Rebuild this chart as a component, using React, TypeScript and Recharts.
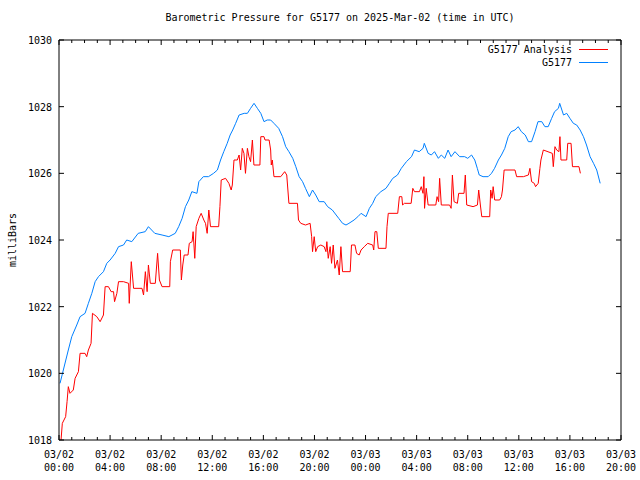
import { LineChart, Line, XAxis, YAxis, Legend } from "recharts";

// hours since 03/02 00:00 UTC
const analysisHours = [
  0.16, 0.26, 0.52, 0.63, 0.73, 0.86, 1.12, 1.26, 1.52, 1.65, 2.04, 2.17, 2.3, 2.51, 2.62, 2.96,
  3.22, 3.48, 3.61, 3.87, 4.08, 4.27, 4.35, 4.53, 4.66, 5.05, 5.45, 5.5, 5.66, 5.84, 6.5, 6.62,
  6.76, 6.9, 7.0, 7.15, 7.54, 7.72, 7.86, 8.07, 8.67, 8.72, 8.9, 9.5, 9.58, 9.69, 9.8, 10.1,
  10.2, 10.42, 10.5, 10.63, 10.74, 10.95, 11.13, 11.34, 11.47, 11.6, 11.73, 11.86, 12.5, 12.6,
  12.7, 13.04, 13.3, 13.48, 13.57, 13.7, 13.96, 14.1, 14.22, 14.35, 14.48, 14.6, 14.75, 14.87,
  15.0, 15.14, 15.26, 15.73, 15.8, 16.05, 16.13, 16.45, 16.57, 16.62, 16.7, 16.83, 17.36, 17.67,
  17.83, 18.0, 18.67, 18.75, 18.93, 19.3, 19.66, 19.78, 19.85, 19.98, 20.1, 20.25, 20.5, 20.76,
  20.9, 20.97, 21.08, 21.23, 21.34, 21.47, 21.6, 21.8, 21.94, 22.07, 22.2, 22.8, 22.9, 23.17,
  23.3, 23.5, 23.65, 23.9, 24.17, 24.56, 24.64, 24.74, 24.88, 25.0, 25.6, 25.68, 25.78, 26.52,
  26.65, 26.84, 26.9, 27.04, 27.57, 27.7, 27.83, 28.22, 28.36, 28.5, 28.57, 28.62, 28.75, 28.9,
  29.5, 29.6, 29.72, 29.8, 29.93, 30.58, 30.7, 30.8, 30.93, 31.19, 31.29, 31.71, 31.81, 31.92,
  32.42, 32.76, 32.86, 32.99, 33.1, 33.72, 33.8, 33.91, 33.99, 34.11, 34.5, 34.64, 34.72, 34.85,
  35.7, 35.83, 36.36, 36.75, 36.87, 37.0, 37.21, 37.31, 37.52, 37.65, 37.73, 37.92, 38.62, 38.7,
  38.83, 38.96, 39.14, 39.22, 39.3, 39.75, 39.83, 40.09, 40.2, 40.71, 40.82,
];
const analysisMb = [
  1018.0, 1018.5, 1018.7, 1019.15, 1019.6, 1019.4, 1019.5, 1019.85, 1020.05, 1020.6, 1020.6, 1020.5, 1020.7, 1020.9, 1021.8, 1021.7,
  1021.55, 1021.75, 1022.6, 1022.6, 1022.45, 1022.45, 1022.15, 1022.4, 1022.75, 1022.75, 1022.7, 1022.1, 1023.35, 1022.55, 1022.55, 1022.35,
  1023.05, 1022.45, 1023.25, 1022.7, 1022.7, 1023.6, 1022.8, 1022.6, 1022.6, 1023.35, 1023.7, 1023.7, 1022.8, 1023.25, 1023.55, 1023.55,
  1023.9, 1023.95, 1024.25, 1023.45, 1024.4, 1024.65, 1024.8, 1024.6, 1024.5, 1024.2, 1024.9, 1024.4, 1024.4, 1025.0,
  1025.8, 1025.85, 1025.7, 1025.5, 1025.65, 1026.4, 1026.4, 1026.55, 1026.1, 1026.75, 1026.6, 1026.0, 1026.75, 1026.5,
  1026.35, 1027.0, 1026.25, 1026.25, 1027.1, 1027.1, 1027.0, 1027.0, 1026.7, 1026.25, 1026.4, 1025.9, 1025.9, 1026.05,
  1025.95, 1025.1, 1025.1, 1024.6, 1024.5, 1024.45, 1024.5, 1024.1, 1023.65, 1024.1, 1023.65, 1023.8, 1023.85, 1023.8,
  1023.65, 1023.95, 1023.45, 1023.8, 1023.3, 1023.85, 1023.15, 1023.4, 1022.95, 1023.8, 1023.05, 1023.05, 1023.85, 1023.85,
  1023.6, 1023.55, 1023.7, 1023.8, 1023.9, 1023.85, 1023.7, 1024.25, 1024.25, 1023.75, 1023.75, 1024.4, 1024.8, 1024.8,
  1025.3, 1025.3, 1025.05, 1025.1, 1025.1, 1025.55, 1025.45, 1025.45, 1025.6, 1025.4, 1025.9, 1024.95, 1025.55, 1025.05,
  1025.05, 1025.3, 1025.15, 1025.85, 1025.05, 1025.05, 1024.95, 1025.95, 1025.15, 1025.1, 1025.4, 1025.4, 1025.95, 1025.05,
  1025.0, 1025.05, 1025.5, 1025.05, 1024.7, 1024.7, 1025.5, 1025.25, 1025.6, 1025.2, 1025.2, 1025.3, 1025.5, 1026.1,
  1026.1, 1025.9, 1025.9, 1025.95, 1026.15, 1025.75, 1025.7, 1025.6, 1025.7, 1026.15, 1026.4, 1026.7, 1026.6, 1026.2,
  1026.8, 1026.7, 1026.65, 1027.1, 1026.4, 1026.4, 1026.9, 1026.9, 1026.2, 1026.2, 1026.0,
];

const stationHours = [
  0.08, 0.34, 0.73, 1.0, 1.39, 1.65, 2.04, 2.3, 2.57, 2.83, 3.09, 3.48, 3.74, 4.0, 4.4, 4.66,
  5.05, 5.3, 5.7, 6.2, 6.75, 7.0, 7.5, 8.07, 8.6, 9.1, 9.37, 9.64, 9.9, 10.16, 10.4, 10.8,
  10.95, 11.3, 11.7, 12.1, 12.4, 12.65, 12.9, 13.17, 13.4, 13.6, 13.83, 14.1, 14.5, 14.75, 15.0, 15.27,
  15.53, 15.8, 16.05, 16.3, 16.57, 16.83, 17.2, 17.5, 17.75, 18.0, 18.3, 18.54, 18.8, 19.07, 19.3, 19.6,
  19.85, 20.1, 20.37, 20.76, 21.03, 21.4, 21.7, 21.9, 22.2, 22.47, 22.7, 23.1, 23.4, 23.65, 24.04, 24.3,
  24.56, 24.8, 25.2, 25.6, 25.87, 26.13, 26.5, 26.8, 27.2, 27.6, 27.83, 28.2, 28.5, 28.6, 28.9, 29.15,
  29.4, 29.7, 29.93, 30.2, 30.46, 30.7, 31.0, 31.37, 31.76, 32.0, 32.3, 32.55, 32.75, 32.9, 33.2, 33.6,
  33.86, 34.1, 34.4, 34.64, 34.9, 35.17, 35.4, 35.7, 35.95, 36.2, 36.5, 36.75, 37.0, 37.27, 37.5, 37.8,
  38.04, 38.3, 38.57, 38.8, 39.1, 39.2, 39.5, 39.75, 40.0, 40.27, 40.53, 40.8, 41.06, 41.3, 41.58, 41.85,
  42.1, 42.37,
];
const stationMb = [
  1019.7, 1020.1, 1020.7, 1021.1, 1021.45, 1021.7, 1021.8, 1022.1, 1022.4, 1022.75, 1022.9, 1023.05, 1023.3, 1023.4, 1023.6, 1023.8,
  1023.85, 1024.0, 1023.95, 1024.2, 1024.25, 1024.4, 1024.2, 1024.15, 1024.1, 1024.2, 1024.4, 1024.65, 1025.0, 1025.2, 1025.45, 1025.4,
  1025.75, 1025.9, 1025.9, 1026.0, 1026.1, 1026.4, 1026.65, 1026.9, 1027.15, 1027.3, 1027.5, 1027.75, 1027.8, 1027.8, 1027.95, 1028.1,
  1027.95, 1027.8, 1027.55, 1027.6, 1027.6, 1027.5, 1027.35, 1027.1, 1026.8, 1026.65, 1026.45, 1026.2, 1025.9, 1025.75, 1025.55, 1025.3,
  1025.5, 1025.35, 1025.15, 1025.15, 1025.0, 1024.9, 1024.75, 1024.65, 1024.5, 1024.45, 1024.5, 1024.6, 1024.7, 1024.8, 1024.7, 1024.95,
  1025.1, 1025.3, 1025.45, 1025.55, 1025.7, 1025.85, 1025.95, 1026.15, 1026.35, 1026.5, 1026.7, 1026.65, 1026.75, 1026.9, 1026.6, 1026.55,
  1026.65, 1026.45, 1026.55, 1026.45, 1026.7, 1026.5, 1026.65, 1026.5, 1026.5, 1026.45, 1026.55, 1026.4, 1026.15, 1025.95, 1025.9, 1025.9,
  1026.0, 1026.15, 1026.4, 1026.55, 1026.75, 1027.1, 1027.25, 1027.3, 1027.4, 1027.25, 1027.15, 1026.95, 1026.95, 1027.25, 1027.55, 1027.55,
  1027.4, 1027.4, 1027.65, 1027.85, 1027.95, 1028.1, 1027.75, 1027.8, 1027.65, 1027.5, 1027.45, 1027.3, 1027.1, 1026.85, 1026.5, 1026.3,
  1026.1, 1025.7,
];

const hourTicks = Array.from({ length: 45 }, (_, i) => i);
const xTickLabels = [
  "03/02 00:00", "03/02 04:00", "03/02 08:00", "03/02 12:00", "03/02 16:00", "03/02 20:00",
  "03/03 00:00", "03/03 04:00", "03/03 08:00", "03/03 12:00", "03/03 16:00", "03/03 20:00",
];
const yTicks = [1018, 1020, 1022, 1024, 1026, 1028, 1030];
const seriesNames = ["G5177 Analysis", "G5177"];
const seriesColors = ["#ff0000", "#0080ff"];

const FONT = "'DejaVu Sans Mono', monospace";
// recharts treats a tickSize of 0 as "use the default", so use a hair instead
const NO_TICK = 0.0001;

const analysisData = analysisHours.map((t, i) => ({ t, mb: analysisMb[i] }));
const stationData = stationHours.map((t, i) => ({ t, mb: stationMb[i] }));

function BottomTick({ x, y, payload }: any) {
  const h = payload.value;
  const major = h % 4 === 0;
  const label = major ? xTickLabels[h / 4] : null;
  return (
    <g>
      <line x1={x} y1={y} x2={x} y2={y - (major ? 5 : 3)} stroke="#000" />
      {label && (
        <text x={x} y={y + 18} textAnchor="middle" fontFamily={FONT} fontSize={10} fill="#000">
          {label.split(" ")[0]}
        </text>
      )}
      {label && (
        <text x={x} y={y + 31} textAnchor="middle" fontFamily={FONT} fontSize={10} fill="#000">
          {label.split(" ")[1]}
        </text>
      )}
    </g>
  );
}

function TopTick({ x, y, payload }: any) {
  const major = payload.value % 4 === 0;
  return <line x1={x} y1={y} x2={x} y2={y + (major ? 5 : 3)} stroke="#000" />;
}

function LeftTick({ x, y, payload }: any) {
  return (
    <g>
      <line x1={x} y1={y} x2={x + 5} y2={y} stroke="#000" />
      <text x={x - 7} y={y + 4} textAnchor="end" fontFamily={FONT} fontSize={10} fill="#000">
        {payload.value}
      </text>
    </g>
  );
}

function RightTick({ x, y }: any) {
  return <line x1={x} y1={y} x2={x - 5} y2={y} stroke="#000" />;
}

function LegendBox({ payload }: any) {
  const items = (payload || [])
    .filter((p: any) => seriesNames.includes(p.value))
    .sort((a: any, b: any) => seriesNames.indexOf(a.value) - seriesNames.indexOf(b.value));
  return (
    <div style={{ fontFamily: FONT, fontSize: 10, color: "#000" }}>
      {items.map((p: any) => (
        <div key={p.value} style={{ display: "flex", alignItems: "center", justifyContent: "flex-end", height: 13 }}>
          <span style={{ marginRight: 7 }}>{p.value}</span>
          <span
            style={{
              display: "inline-block", width: 29, height: 1, marginRight: 12,
              background: seriesColors[seriesNames.indexOf(p.value)],
            }}
          />
        </div>
      ))}
    </div>
  );
}

export default function App() {
  return (
    <div style={{ position: "absolute", left: 0, top: 0, width: 640, height: 480, background: "#fff" }}>
      <div
        style={{
          position: "absolute", top: 12, left: 0, width: 680, textAlign: "center",
          fontFamily: FONT, fontSize: 10, color: "#000",
        }}
      >
        Barometric Pressure for G5177 on 2025-Mar-02 (time in UTC)
      </div>
      <div
        style={{
          position: "absolute", left: 12, top: 240, transform: "translate(-50%, -50%) rotate(-90deg)",
          fontFamily: FONT, fontSize: 10, color: "#000", whiteSpace: "nowrap",
        }}
      >
        milliBars
      </div>
      <LineChart width={640} height={480} margin={{ top: 39, right: 18, bottom: 0, left: 0 }}>
        <XAxis
          dataKey="t"
          type="number"
          domain={[0, 44]}
          ticks={hourTicks}
          interval={0}
          height={40}
          tickSize={NO_TICK}
          tickMargin={0}
          tick={<BottomTick />}
          axisLine={{ stroke: "#000" }}
          allowDataOverflow
        />
        <XAxis
          xAxisId="top"
          orientation="top"
          dataKey="t"
          type="number"
          domain={[0, 44]}
          ticks={hourTicks}
          interval={0}
          height={1}
          tickSize={NO_TICK}
          tickMargin={0}
          tick={<TopTick />}
          axisLine={{ stroke: "#000" }}
          allowDataOverflow
        />
        <YAxis
          domain={[1018, 1030]}
          ticks={yTicks}
          interval={0}
          width={59}
          tickSize={NO_TICK}
          tickMargin={0}
          tick={<LeftTick />}
          axisLine={{ stroke: "#000" }}
          allowDataOverflow
        />
        <YAxis
          yAxisId="right"
          orientation="right"
          domain={[1018, 1030]}
          ticks={yTicks}
          interval={0}
          width={1}
          tickSize={NO_TICK}
          tickMargin={0}
          tick={<RightTick />}
          axisLine={{ stroke: "#000" }}
          allowDataOverflow
        />
        <Legend
          layout="vertical"
          align="center"
          verticalAlign="middle"
          content={<LegendBox />}
          wrapperStyle={{ top: 43, left: 380, width: 240, height: 30 }}
        />
        <Line
          data={analysisData}
          dataKey="mb"
          name={seriesNames[0]}
          stroke={seriesColors[0]}
          strokeWidth={1}
          dot={false}
          activeDot={false}
          isAnimationActive={false}
        />
        <Line
          data={stationData}
          dataKey="mb"
          name={seriesNames[1]}
          stroke={seriesColors[1]}
          strokeWidth={1}
          dot={false}
          activeDot={false}
          isAnimationActive={false}
        />
        {/* invisible copy so the top and right frame axes get a domain */}
        <Line
          data={stationData}
          dataKey="mb"
          xAxisId="top"
          yAxisId="right"
          stroke="none"
          dot={false}
          activeDot={false}
          legendType="none"
          isAnimationActive={false}
        />
      </LineChart>
    </div>
  );
}
